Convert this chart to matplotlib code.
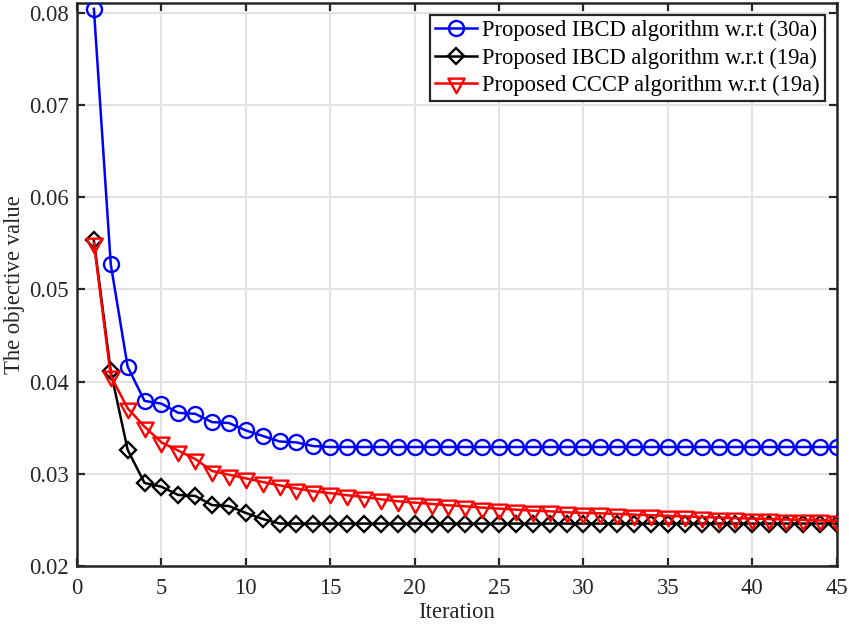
import numpy as np
import matplotlib
matplotlib.use("Agg")
import matplotlib.pyplot as plt
from matplotlib.path import Path

iterations = list(range(1, 46))

ibcd_30a = [0.0804, 0.0527, 0.0416, 0.0379, 0.0376, 0.0366, 0.0365, 0.0356, 0.0355,
            0.0347, 0.0341, 0.0335, 0.0334, 0.0330, 0.0329, 0.0329, 0.0329, 0.0329,
            0.0329, 0.0329, 0.0329, 0.0329, 0.0329, 0.0329, 0.0329, 0.0329, 0.0329,
            0.0329, 0.0329, 0.0329, 0.0329, 0.0329, 0.0329, 0.0329, 0.0329, 0.0329,
            0.0329, 0.0329, 0.0329, 0.0329, 0.0329, 0.0329, 0.0329, 0.0329, 0.0329]

ibcd_19a = [0.0553, 0.0411, 0.0326, 0.0290, 0.0286, 0.0277, 0.0276, 0.0266, 0.0265,
            0.02575, 0.0251, 0.0246, 0.0246, 0.0246, 0.0246, 0.0246, 0.0246, 0.0246,
            0.0246, 0.0246, 0.0246, 0.0246, 0.0246, 0.0246, 0.0246, 0.0246, 0.0246,
            0.0246, 0.0246, 0.0246, 0.0246, 0.0246, 0.0246, 0.0246, 0.0246, 0.0246,
            0.0246, 0.0246, 0.0246, 0.0246, 0.0246, 0.0246, 0.0246, 0.0246, 0.0246]

cccp_19a = [0.0550, 0.0406, 0.0371, 0.0351, 0.0334, 0.0325, 0.0316, 0.0303, 0.0299,
            0.0295, 0.0291, 0.02875, 0.0284, 0.0281, 0.0279, 0.02767, 0.02748, 0.02723,
            0.02702, 0.02687, 0.02673, 0.02658, 0.02647, 0.02633, 0.02622, 0.02611,
            0.0260, 0.02593, 0.02582, 0.02575, 0.02571, 0.02564, 0.02557, 0.0255,
            0.02543, 0.02537, 0.02531, 0.02525, 0.02519, 0.02514, 0.02509, 0.02504,
            0.02499, 0.02494, 0.0249]

labels = ["Proposed IBCD algorithm w.r.t (30a)",
          "Proposed IBCD algorithm w.r.t (19a)",
          "Proposed CCCP algorithm w.r.t (19a)"]
xticks = list(range(0, 46, 5))
yticks = [0.02, 0.03, 0.04, 0.05, 0.06, 0.07, 0.08]

plt.rcParams['font.family'] = ['Liberation Serif', 'DejaVu Serif']
FS = 16.3
dark = '#262626'

fig = plt.figure(figsize=(8.49, 6.27), dpi=100)
ax = fig.add_axes([77/849, 1 - 566/627, (836.7 - 77)/849, (566 - 3.3)/627])

# centroid-centred downward triangle (MATLAB style)
tri = Path([(0, -0.6), (-0.5, 0.3), (0.5, 0.3), (0, -0.6)],
           [Path.MOVETO, Path.LINETO, Path.LINETO, Path.CLOSEPOLY])

lw = 1.8
mew = 1.7
ax.plot(iterations, ibcd_30a, color='#0000ff', lw=lw, marker='o', ms=10.8,
        mfc='none', mew=mew, label=labels[0], zorder=3)
ax.plot(iterations, ibcd_19a, color='black', lw=lw, marker='D', ms=8.4,
        mfc='none', mew=mew, label=labels[1], zorder=4)
ax.plot(iterations, cccp_19a, color='#ff0000', lw=lw, marker=tri, ms=14,
        mfc='none', mew=mew, label=labels[2], zorder=5)

ax.set_xlim(0, 45)
ax.set_ylim(0.02, 0.081)
ax.set_xticks(xticks)
ax.set_yticks(yticks)
ax.set_yticklabels([f"{v:.2f}" for v in yticks])
ax.grid(True, color='#e2e2e2', lw=1.4)
ax.set_axisbelow(True)

for s in ax.spines.values():
    s.set_linewidth(1.8)
    s.set_color(dark)
ax.tick_params(direction='in', length=5.8, width=1.6, colors=dark,
               labelsize=FS, top=True, right=True, pad=6)
ax.tick_params(axis='x', pad=9)

ax.set_xlabel('Iteration', fontsize=FS, color=dark, labelpad=2)
ax.set_ylabel('The objective value', fontsize=FS, color=dark, labelpad=3)

leg = ax.legend(loc='upper right', bbox_to_anchor=(825/849, 1 - 15/627),
                bbox_transform=fig.transFigure, borderaxespad=0,
                fontsize=FS, handlelength=1.85, handletextpad=0.25,
                labelspacing=0.28, borderpad=0.22, fancybox=False,
                framealpha=1, edgecolor=dark)
leg.get_frame().set_linewidth(1.6)
for t in leg.get_texts():
    t.set_color('black')

fig.savefig('out.png', dpi=100)
